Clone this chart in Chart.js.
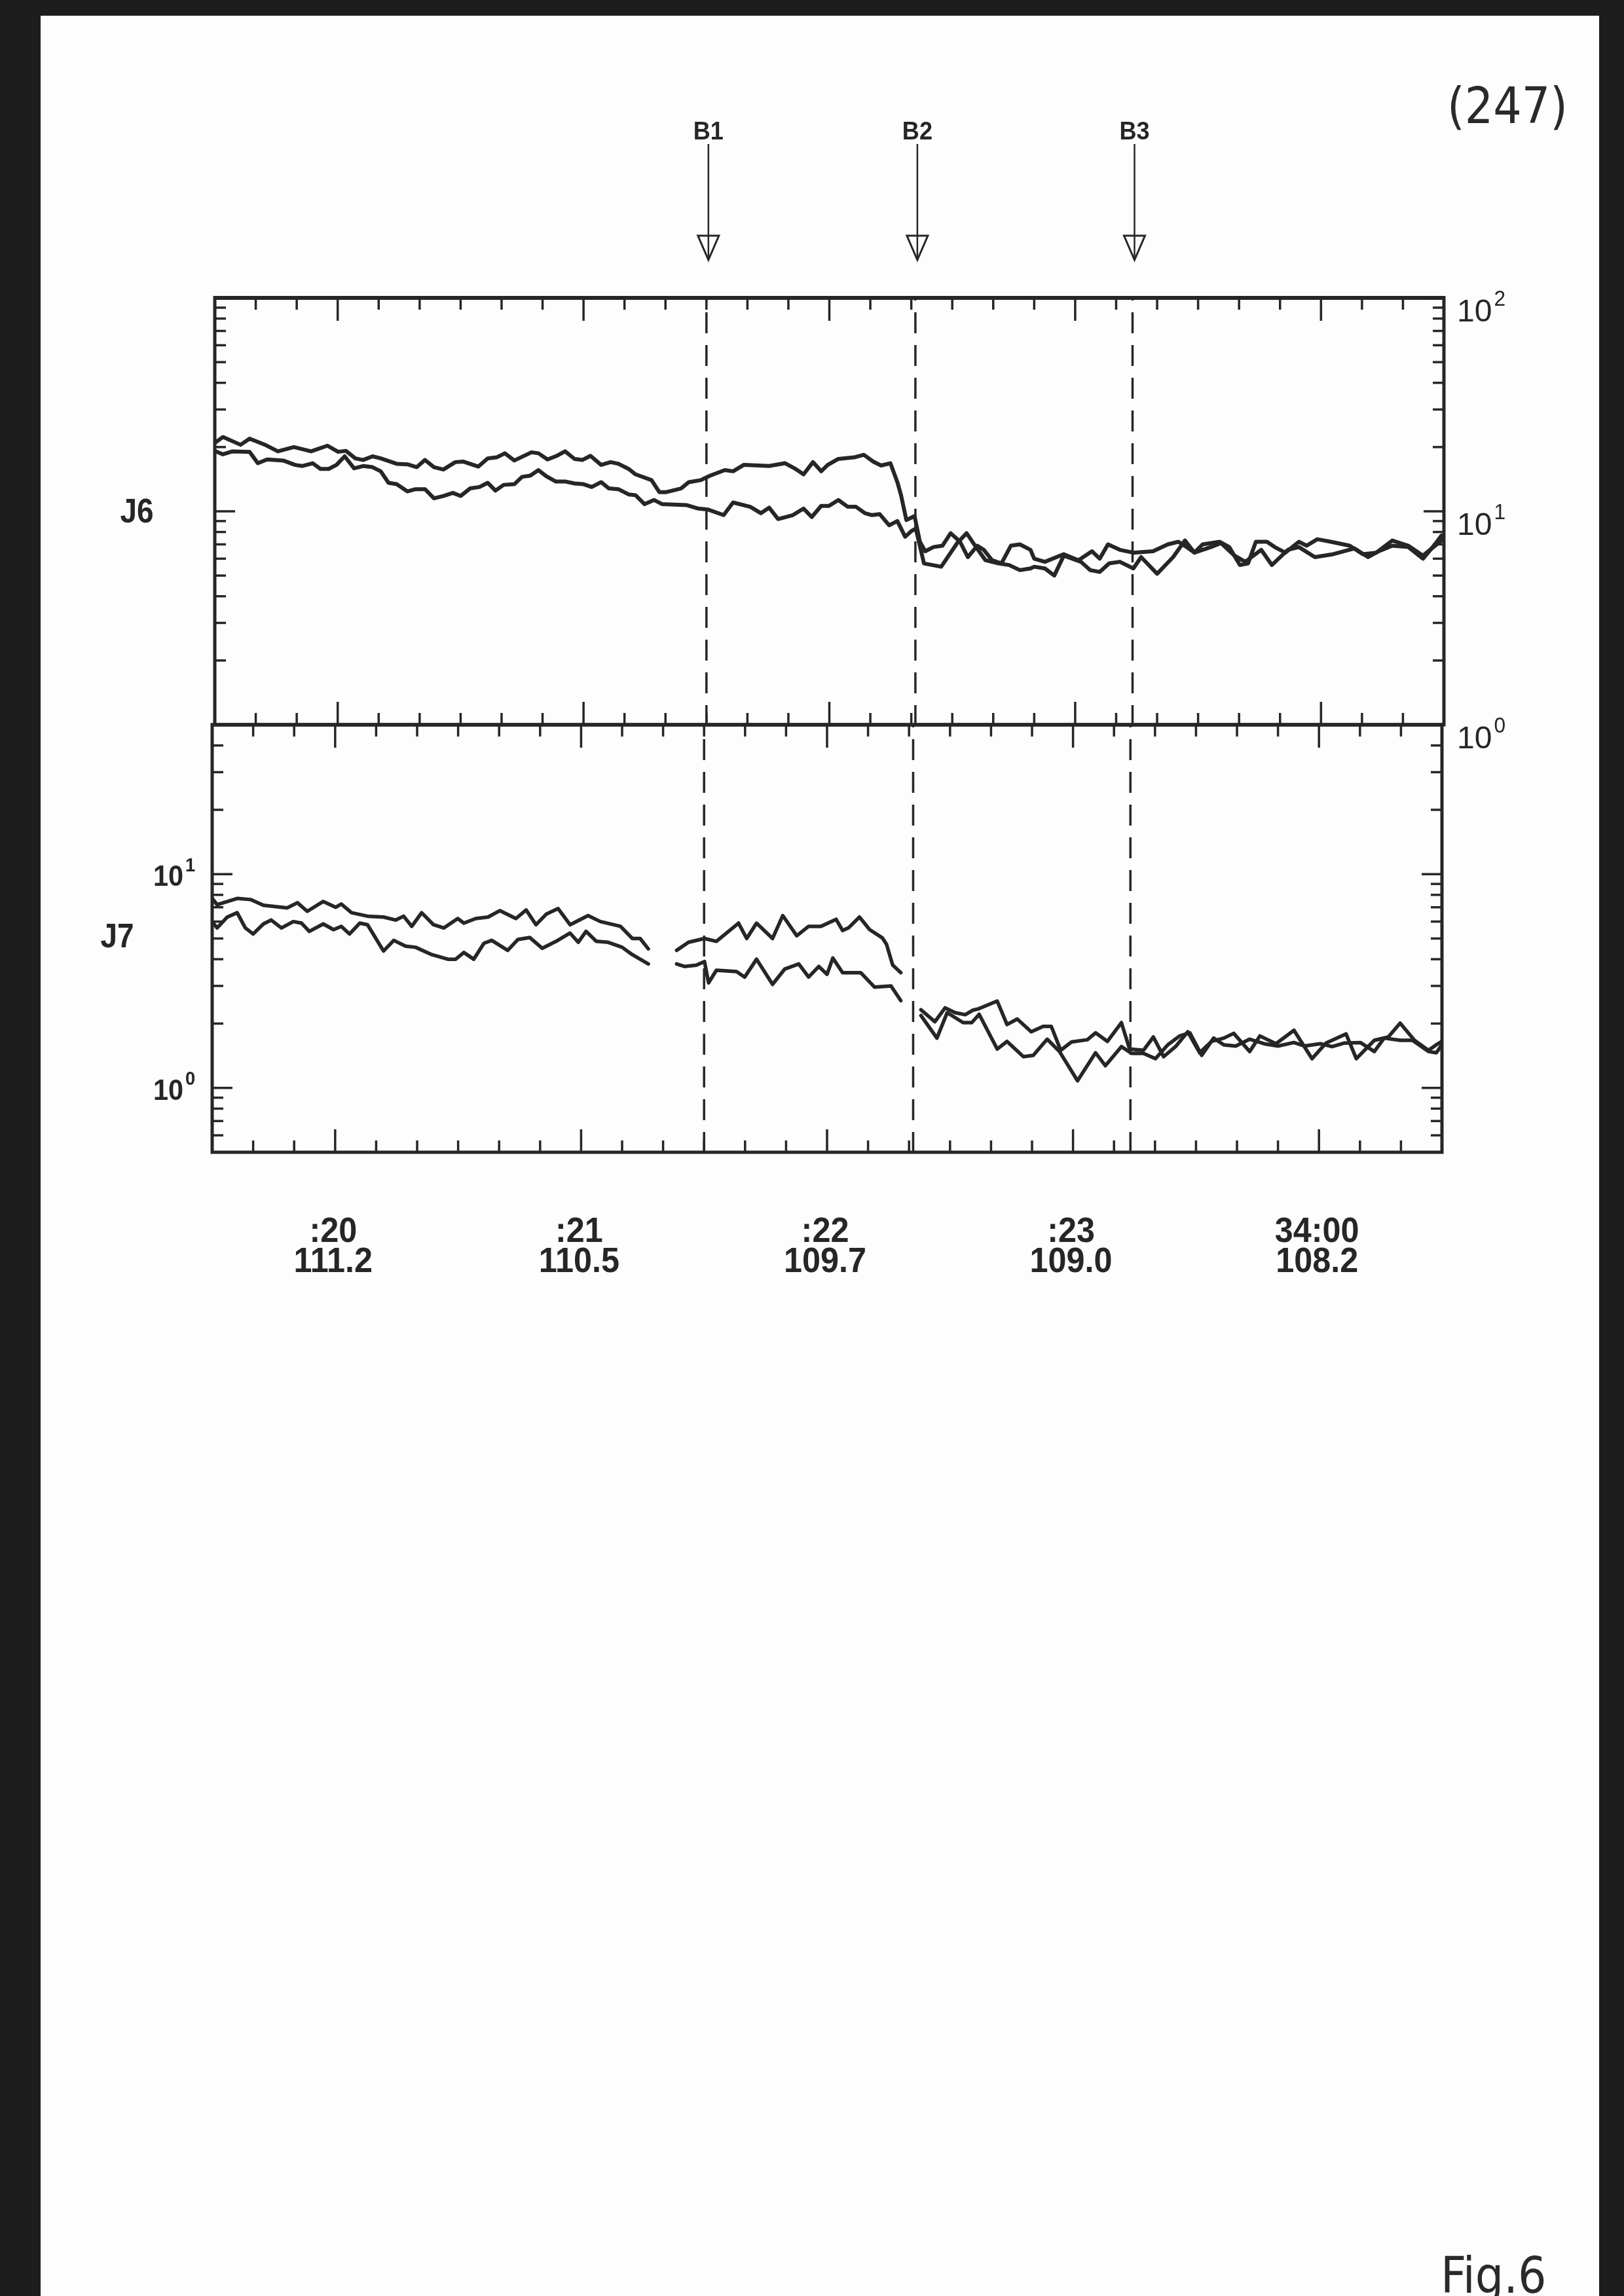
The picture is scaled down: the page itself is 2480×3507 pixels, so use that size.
<!DOCTYPE html>
<html>
<head>
<meta charset="utf-8">
<title>Fig. 6 - J6 / J7</title>
<script src="https://cdn.jsdelivr.net/npm/chart.js@4.4.0/dist/chart.umd.min.js"></script>
<style>
  html, body { margin: 0; padding: 0; background: #fff; }
  #page { position: relative; width: 2480px; height: 3507px; overflow: hidden; background: #fdfdfd; }
  .edge { position: absolute; background: #1d1d1d; }
  canvas { position: absolute; left: 0; }
  .hand { position: absolute; color: #2a2a2a; line-height: 1;
          font-family: "Liberation Sans Narrow", "Arial Narrow", "DejaVu Sans Condensed", sans-serif; }
</style>
</head>
<body>
<div id="page">
  <div class="edge" style="left:0;top:0;width:62px;height:3507px"></div>
  <div class="edge" style="left:0;top:0;width:2480px;height:24px"></div>
  <div class="edge" style="left:2442px;top:0;width:38px;height:3507px"></div>
  <canvas id="j6" width="2480" height="1200" style="top:0"></canvas>
  <canvas id="j7" width="2480" height="1000" style="top:1000px"></canvas>
  <div class="hand" style="left:2210px;top:124px;font-size:76px">(247)</div>
  <div class="hand" style="left:2200px;top:3438px;font-size:76px">Fig.6</div>
</div>
<script>
const ink = "#262626";
const FONT = '"Liberation Sans", Arial, Helvetica, sans-serif';

// x is in 10 s steps from the left edge of the panels (0..30)
let j6UpperX = [0,0.2,0.63,0.85,1.25,1.54,1.93,2.35,2.75,3.01,3.2,3.43,3.62,3.85,4.05,4.44,4.7,4.93,5.13,5.35,
  5.58,5.87,6.07,6.43,6.66,6.88,7.08,7.31,7.73,7.9,8.12,8.35,8.55,8.78,8.97,9.17,9.43,9.66,9.85,10.1,
  10.27,10.66,10.85,11.02,11.38,11.57,11.86,12.09,12.45,12.65,12.91,13.53,13.92,14.15,14.37,14.6,14.8,14.96,15.22,15.61,
  15.84,16.07,16.26,16.49,16.66,16.75,16.88,17.08,17.21,17.34,17.54,17.76,17.96,18.19,18.38,18.61,18.77,18.97,19.2,19.43,
  19.65,19.91,20.0,20.26,20.72,21.08,21.41,21.6,21.8,22.09,22.42,22.9,23.26,23.52,23.72,23.91,24.11,24.53,24.76,25.02,
  25.22,25.41,25.68,25.87,26.13,26.46,26.65,26.91,27.24,27.7,28.02,28.35,28.74,29.13,29.49,29.94,30];
let j6UpperY = [20.9,22.3,20.5,21.9,20.4,19.1,20.0,19.1,20.3,19.0,19.2,17.7,17.4,18.1,17.7,16.7,16.6,16.1,17.4,16.1,
  15.7,17.0,17.1,16.2,17.7,17.9,18.7,17.3,18.9,18.7,17.5,18.2,19.1,17.6,17.4,18.2,16.5,17.0,16.7,15.8,
  14.9,14.0,12.3,12.3,12.8,13.7,14.0,14.7,15.6,15.4,16.5,16.3,16.8,15.9,14.9,17.0,15.4,16.5,17.6,17.9,
  18.4,17.1,16.4,16.8,13.7,11.9,9.1,9.5,7.2,6.5,6.8,6.9,7.9,7.2,6.1,6.9,6.6,5.9,5.7,6.9,
  7.0,6.6,6.0,5.8,6.3,5.9,6.5,6.0,7.0,6.6,6.4,6.5,7.0,7.2,6.8,6.4,7.0,7.2,6.8,5.6,
  5.7,7.2,7.2,6.8,6.4,7.2,6.9,7.4,7.2,6.9,6.3,6.4,7.3,6.9,6.2,7.3,7.6];

let j6LowerX = [0,0.2,0.43,0.85,1.05,1.28,1.67,1.96,2.13,2.39,2.58,2.78,2.97,3.17,3.4,3.62,3.85,4.05,4.24,4.44,
  4.7,4.9,5.13,5.35,5.58,5.81,6.0,6.23,6.46,6.66,6.85,7.05,7.31,7.5,7.7,7.9,8.09,8.32,8.55,8.78,
  9.0,9.2,9.43,9.62,9.85,10.1,10.27,10.49,10.72,10.92,11.51,11.8,12.03,12.42,12.65,13.07,13.33,13.53,13.75,14.11,
  14.37,14.57,14.8,14.99,15.22,15.45,15.65,15.87,16.04,16.23,16.46,16.66,16.85,17.01,17.11,17.31,17.73,18.12,18.35,18.58,
  18.81,19.13,19.39,19.65,19.91,20.0,20.26,20.49,20.72,21.14,21.37,21.6,21.83,22.09,22.42,22.61,23.0,23.39,23.68,23.91,
  24.31,24.56,24.89,25.15,25.54,25.8,26.19,26.46,26.85,27.3,27.82,28.15,28.41,28.74,29.13,29.49,29.78,29.94,30];
let j6LowerY = [19.2,18.5,19.1,19.0,16.8,17.5,17.3,16.5,16.3,16.8,15.8,15.8,16.5,18.1,15.9,16.3,16.1,15.4,13.6,13.4,
  12.4,12.7,12.7,11.5,11.8,12.2,11.8,12.8,13.0,13.6,12.5,13.3,13.4,14.5,14.7,15.6,14.6,13.8,13.8,13.5,
  13.4,13.0,13.7,12.8,12.7,12.0,11.9,10.8,11.3,10.8,10.7,10.3,10.2,9.6,11.0,10.5,9.8,10.4,9.2,9.6,
  10.3,9.4,10.6,10.6,11.3,10.5,10.5,9.8,9.6,9.7,8.6,9.0,7.6,8.1,8.3,5.7,5.5,7.1,7.9,6.8,
  5.9,5.7,5.6,5.3,5.4,5.5,5.4,5.0,6.2,5.8,5.3,5.2,5.7,5.8,5.4,6.1,5.1,6.1,7.3,6.4,
  6.8,7.1,6.2,5.8,6.6,5.6,6.6,6.8,6.1,6.3,6.7,6.1,6.5,6.9,6.8,6.0,7.0,7.7,7.6];

// null = no data (gaps in J7)
let j7UpperX = [0,0.12,0.61,0.95,1.25,1.83,2.08,2.32,2.71,3.01,3.15,3.4,3.79,4.18,4.48,4.67,4.87,5.11,5.4,5.65,
  5.99,6.14,6.43,6.73,7.02,7.41,7.66,7.9,8.15,8.44,8.73,9.17,9.47,9.96,10.25,10.44,10.64,10.95,
  11.33,11.62,12.01,12.3,12.84,13.04,13.28,13.67,13.92,14.26,14.55,14.85,15.22,15.38,15.53,15.79,16.04,16.35,16.45,16.6,
  16.8,17.05,17.29,17.63,17.88,18.12,18.37,18.56,18.71,19.15,19.39,19.64,19.98,20.27,20.47,20.7,20.96,21.35,21.55,21.84,
  22.18,22.38,22.72,22.96,23.21,23.5,23.8,24.09,24.38,24.68,24.92,25.31,25.56,25.95,26.39,26.83,27.17,27.66,27.91,28.35,
  28.69,28.98,29.33,29.67,29.86,30];
let j7UpperY = [7.7,7.2,7.7,7.6,7.15,6.95,7.35,6.7,7.45,7.0,7.25,6.6,6.36,6.3,6.1,6.36,5.7,6.6,5.8,5.6,
  6.2,5.9,6.2,6.3,6.75,6.2,6.8,5.8,6.5,6.9,5.8,6.4,6.0,5.7,5.0,5.0,4.47,null,
  4.4,4.8,5.0,4.85,5.9,5.0,5.9,5.0,6.4,5.15,5.7,5.7,6.15,5.45,5.62,6.3,5.5,5.03,4.7,3.76,
  3.46,null,2.32,2.04,2.37,2.25,2.2,2.31,2.35,2.55,1.98,2.1,1.83,1.94,1.94,1.5,1.64,1.68,1.81,1.65,
  2.02,1.52,1.5,1.73,1.4,1.56,1.83,1.46,1.65,1.71,1.8,1.48,1.75,1.61,1.86,1.37,1.62,1.79,1.37,1.67,
  1.73,2.01,1.67,1.5,1.59,1.65];

let j7LowerX = [0,0.12,0.37,0.61,0.81,1.0,1.25,1.44,1.69,1.98,2.18,2.37,2.71,2.96,3.15,3.35,3.6,3.79,4.18,4.43,
  4.72,4.96,5.36,5.75,5.94,6.14,6.38,6.63,6.82,7.21,7.46,7.75,8.05,8.39,8.73,8.93,9.12,9.37,9.66,10.0,
  10.25,10.44,10.64,10.95,11.33,11.52,11.81,12.01,12.11,12.3,12.79,12.99,13.28,13.67,13.97,14.31,14.55,14.8,15.0,15.14,
  15.38,15.82,16.16,16.56,16.8,17.05,17.29,17.68,17.93,18.32,18.53,18.71,19.15,19.39,19.79,20.03,20.37,20.67,21.11,21.55,
  21.79,22.18,22.43,22.72,23.01,23.31,23.6,23.85,24.14,24.43,24.68,24.97,25.31,25.66,26.0,26.39,26.64,27.03,27.32,27.61,
  28.01,28.35,28.59,28.98,29.28,29.67,29.86,30];
let j7LowerY = [6.0,5.6,6.3,6.6,5.6,5.25,5.85,6.1,5.6,6.0,5.9,5.4,5.85,5.5,5.7,5.25,5.9,5.8,4.37,4.9,
  4.6,4.55,4.2,4.0,4.0,4.3,4.0,4.75,4.9,4.4,4.95,5.05,4.5,4.85,5.3,4.8,5.4,4.85,4.8,4.55,
  4.2,4.0,3.8,null,3.8,3.7,3.75,3.9,3.1,3.55,3.5,3.3,4.0,3.05,3.6,3.8,3.3,3.7,3.4,4.05,
  3.46,3.46,2.96,3.0,2.56,null,2.18,1.71,2.25,2.02,2.02,2.21,1.52,1.65,1.4,1.42,1.69,1.48,1.08,1.46,
  1.27,1.56,1.45,1.45,1.37,1.59,1.75,1.81,1.42,1.71,1.59,1.57,1.69,1.61,1.57,1.63,1.57,1.61,1.56,1.62,
  1.63,1.48,1.71,1.67,1.67,1.48,1.46,1.59];

// axis labelling
let minuteTicks = [3, 9, 15, 21, 27];
let minuteLabels = [":20", ":21", ":22", ":23", "34:00"];
let distLabels = ["111.2", "110.5", "109.7", "109.0", "108.2"];
let boundaryNames = ["B1", "B2", "B3"];
let boundaryAt = [12.0, 17.1, 22.4];
let j6Minor = [2, 3, 4, 5, 6, 7, 8, 9, 20, 30, 40, 50, 60, 70, 80, 90];
let j6Decades = [1, 10, 100];
let j7Minor = [0.6, 0.7, 0.8, 0.9, 2, 3, 4, 5, 6, 7, 8, 9, 20, 30, 40];
let j7Decades = [1, 10];

function series(xs, ys) {
    return xs.map((x, i) => ({ x: x, y: ys[i] }));
}

function seg(ctx, x1, y1, x2, y2) {
    ctx.beginPath();
    ctx.moveTo(x1, y1);
    ctx.lineTo(x2, y2);
    ctx.stroke();
}

// text squeezed sideways, like the narrow plotter font of the original
function say(ctx, s, x, y, size, weight, align, sx) {
    ctx.save();
    ctx.font = weight + " " + size + "px " + FONT;
    ctx.textAlign = align;
    ctx.textBaseline = "alphabetic";
    ctx.translate(x, y);
    ctx.scale(sx, 1);
    ctx.fillText(s, 0, 0);
    ctx.restore();
}

function wide(ctx, s, size, weight, sx) {
    ctx.font = weight + " " + size + "px " + FONT;
    return ctx.measureText(s).width * sx;
}

// "10" with a raised exponent
function decadeLabel(ctx, v, x, y, side, weight, size, sx) {
    let exp = String(Math.round(Math.log10(v)));
    let w = wide(ctx, "10", size, weight, sx);
    let left = side === "right" ? x : x - w;
    say(ctx, "10", left, y, size, weight, "left", sx);
    say(ctx, exp, left + w + 3, y - size * 0.5, size * 0.66, weight, "left", sx);
}

const panelDecor = {
    id: "panelDecor",
    beforeDatasetsDraw(chart, args, o) {
        let { ctx, chartArea: a, scales: { x } } = chart;
        ctx.save();
        ctx.strokeStyle = ink;
        ctx.lineWidth = 3.5;
        ctx.setLineDash([32, 18]);
        ctx.lineDashOffset = -22;
        boundaryAt.forEach(b => {
            let px = x.getPixelForValue(b);
            seg(ctx, px, a.top, px, a.bottom);
        });
        ctx.restore();
    },
    afterDatasetsDraw(chart, args, o) {
        let { ctx, chartArea: a, scales: { x, y } } = chart;
        ctx.save();
        ctx.strokeStyle = ink;
        ctx.fillStyle = ink;

        // frame
        ctx.lineWidth = 5;
        ctx.strokeRect(a.left, a.top, a.right - a.left, a.bottom - a.top);
        ctx.lineWidth = o.topEdge;
        seg(ctx, a.left - 2, a.top, a.right + 2, a.top);

        // inward time ticks, top and bottom
        ctx.lineWidth = 3.5;
        for (let u = 1; u < 30; u++) {
            let px = x.getPixelForValue(u);
            let len = minuteTicks.includes(u) ? 35 : 18;
            seg(ctx, px, a.top, px, a.top + len);
            seg(ctx, px, a.bottom, px, a.bottom - len);
        }
        // inward log ticks, both sides
        o.minor.forEach(v => {
            let py = y.getPixelForValue(v);
            seg(ctx, a.left, py, a.left + 17, py);
            seg(ctx, a.right, py, a.right - 17, py);
        });
        o.decades.forEach(v => {
            let py = y.getPixelForValue(v);
            seg(ctx, a.left, py, a.left + 31, py);
            seg(ctx, a.right, py, a.right - 31, py);
        });

        // decade labels
        o.labelDecades.forEach(v => {
            let py = y.getPixelForValue(v);
            if (o.labelSide === "right") decadeLabel(ctx, v, a.right + 20, py + 36, "right", "normal", 49, 0.98);
            else decadeLabel(ctx, v, a.left - 44, py + 18, "left", "bold", 45, 0.92);
        });

        // channel name
        say(ctx, o.name, o.nameX, a.top + o.nameDy, 51, "bold", "center", 0.9);

        if (o.arrows) {
            // boundary markers above the top panel
            boundaryAt.forEach((b, i) => {
                let px = x.getPixelForValue(b) + 3;
                say(ctx, boundaryNames[i], px, 213, 38, "bold", "center", 0.95);
                ctx.lineWidth = 2.5;
                seg(ctx, px, 220, px, 396);
                ctx.lineWidth = 3;
                ctx.beginPath();
                ctx.moveTo(px - 16, 360);
                ctx.lineTo(px + 16, 360);
                ctx.lineTo(px, 397);
                ctx.closePath();
                ctx.stroke();
            });
        }

        if (o.timeLabels) {
            minuteTicks.forEach((t, i) => {
                let px = x.getPixelForValue(t) - 3;
                say(ctx, minuteLabels[i], px, a.bottom + 137, 53, "bold", "center", 0.95);
                say(ctx, distLabels[i], px, a.bottom + 183, 53, "bold", "center", 0.95);
            });
        }
        ctx.restore();
    }
};

const lineStyle = {
    borderColor: ink,
    pointRadius: 0,
    fill: false,
    tension: 0,
    spanGaps: false,
    borderJoinStyle: "round",
    borderCapStyle: "round"
};

function makePanel(id, sets, yMin, yMax, pad, deco) {
    return new Chart(document.getElementById(id), {
        type: "line",
        data: { datasets: sets },
        options: {
            responsive: false,
            animation: false,
            devicePixelRatio: 1,
            events: [],
            layout: { padding: pad },
            plugins: { legend: { display: false }, tooltip: { enabled: false }, panelDecor: deco },
            scales: {
                x: { type: "linear", min: 0, max: 30, display: false },
                y: { type: "logarithmic", min: yMin, max: yMax, display: false }
            }
        },
        plugins: [panelDecor]
    });
}

makePanel("j6", [
    Object.assign({ data: series(j6UpperX, j6UpperY), borderWidth: 6 }, lineStyle),
    Object.assign({ data: series(j6LowerX, j6LowerY), borderWidth: 6 }, lineStyle)
], 1, 100, { left: 328, right: 275, top: 455, bottom: 93 }, {
    minor: j6Minor, decades: j6Decades, labelDecades: j6Decades, labelSide: "right",
    name: "J6", nameX: 209, nameDy: 343, topEdge: 6, arrows: true, timeLabels: false
});

makePanel("j7", [
    Object.assign({ data: series(j7UpperX, j7UpperY), borderWidth: 5.5 }, lineStyle),
    Object.assign({ data: series(j7LowerX, j7LowerY), borderWidth: 5.5 }, lineStyle)
], 0.5, 50, { left: 324, right: 278, top: 107, bottom: 240 }, {
    minor: j7Minor, decades: j7Decades, labelDecades: j7Decades, labelSide: "left",
    name: "J7", nameX: 179, nameDy: 340, topEdge: 5, arrows: false, timeLabels: true
});
</script>
</body>
</html>
